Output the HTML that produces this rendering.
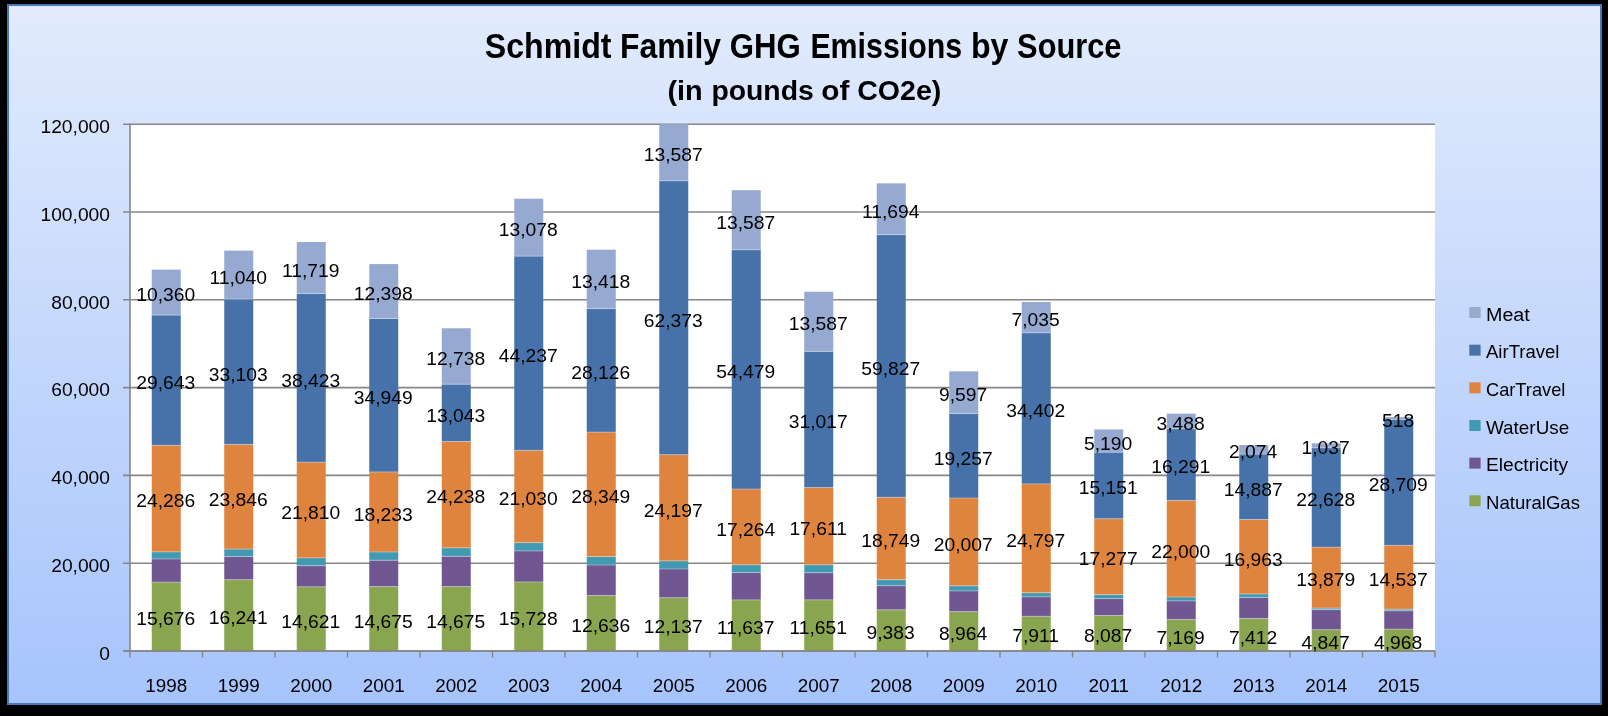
<!DOCTYPE html>
<html><head><meta charset="utf-8"><style>
html,body{margin:0;padding:0;background:#000;width:1608px;height:716px;overflow:hidden}
svg text{font-family:"Liberation Sans", sans-serif;font-size:18.5px;fill:#000}
</style></head><body>
<svg width="1608" height="716" viewBox="0 0 1608 716" style="display:block;will-change:transform">
<defs><linearGradient id="bg" x1="0" y1="0" x2="0" y2="1"><stop offset="0" stop-color="#e2ebfc"/><stop offset="1" stop-color="#a6c4fc"/></linearGradient></defs>
<rect x="0" y="0" width="1608" height="716" fill="#000"/>
<rect x="8" y="5" width="1593" height="699" fill="url(#bg)" stroke="#4678b6" stroke-width="2"/>
<rect x="130.0" y="124.20" width="1305.0" height="526.80" fill="#fff"/>
<line x1="123" y1="651.00" x2="1435" y2="651.00" stroke="#868686" stroke-width="1.6"/>
<line x1="123" y1="563.20" x2="1435" y2="563.20" stroke="#868686" stroke-width="1.6"/>
<line x1="123" y1="475.40" x2="1435" y2="475.40" stroke="#868686" stroke-width="1.6"/>
<line x1="123" y1="387.60" x2="1435" y2="387.60" stroke="#868686" stroke-width="1.6"/>
<line x1="123" y1="299.80" x2="1435" y2="299.80" stroke="#868686" stroke-width="1.6"/>
<line x1="123" y1="212.00" x2="1435" y2="212.00" stroke="#868686" stroke-width="1.6"/>
<line x1="123" y1="124.20" x2="1435" y2="124.20" stroke="#868686" stroke-width="1.6"/>
<line x1="130.0" y1="123.40" x2="130.0" y2="651.80" stroke="#868686" stroke-width="1.6"/>
<line x1="130.00" y1="651.0" x2="130.00" y2="657.5" stroke="#868686" stroke-width="1.4"/>
<line x1="202.50" y1="651.0" x2="202.50" y2="657.5" stroke="#868686" stroke-width="1.4"/>
<line x1="275.00" y1="651.0" x2="275.00" y2="657.5" stroke="#868686" stroke-width="1.4"/>
<line x1="347.50" y1="651.0" x2="347.50" y2="657.5" stroke="#868686" stroke-width="1.4"/>
<line x1="420.00" y1="651.0" x2="420.00" y2="657.5" stroke="#868686" stroke-width="1.4"/>
<line x1="492.50" y1="651.0" x2="492.50" y2="657.5" stroke="#868686" stroke-width="1.4"/>
<line x1="565.00" y1="651.0" x2="565.00" y2="657.5" stroke="#868686" stroke-width="1.4"/>
<line x1="637.50" y1="651.0" x2="637.50" y2="657.5" stroke="#868686" stroke-width="1.4"/>
<line x1="710.00" y1="651.0" x2="710.00" y2="657.5" stroke="#868686" stroke-width="1.4"/>
<line x1="782.50" y1="651.0" x2="782.50" y2="657.5" stroke="#868686" stroke-width="1.4"/>
<line x1="855.00" y1="651.0" x2="855.00" y2="657.5" stroke="#868686" stroke-width="1.4"/>
<line x1="927.50" y1="651.0" x2="927.50" y2="657.5" stroke="#868686" stroke-width="1.4"/>
<line x1="1000.00" y1="651.0" x2="1000.00" y2="657.5" stroke="#868686" stroke-width="1.4"/>
<line x1="1072.50" y1="651.0" x2="1072.50" y2="657.5" stroke="#868686" stroke-width="1.4"/>
<line x1="1145.00" y1="651.0" x2="1145.00" y2="657.5" stroke="#868686" stroke-width="1.4"/>
<line x1="1217.50" y1="651.0" x2="1217.50" y2="657.5" stroke="#868686" stroke-width="1.4"/>
<line x1="1290.00" y1="651.0" x2="1290.00" y2="657.5" stroke="#868686" stroke-width="1.4"/>
<line x1="1362.50" y1="651.0" x2="1362.50" y2="657.5" stroke="#868686" stroke-width="1.4"/>
<line x1="1435.00" y1="651.0" x2="1435.00" y2="657.5" stroke="#868686" stroke-width="1.4"/>
<rect x="151.75" y="582.18" width="29.0" height="68.82" fill="#8aa54f"/>
<rect x="151.75" y="558.98" width="29.0" height="23.20" fill="#715792"/>
<rect x="151.75" y="581.68" width="29.0" height="1" fill="#fff" fill-opacity="0.35"/>
<rect x="151.75" y="551.88" width="29.0" height="7.10" fill="#4299b2"/>
<rect x="151.75" y="558.48" width="29.0" height="1" fill="#fff" fill-opacity="0.35"/>
<rect x="151.75" y="445.27" width="29.0" height="106.62" fill="#df843f"/>
<rect x="151.75" y="551.38" width="29.0" height="1" fill="#fff" fill-opacity="0.35"/>
<rect x="151.75" y="315.13" width="29.0" height="130.13" fill="#4672a9"/>
<rect x="151.75" y="444.77" width="29.0" height="1" fill="#fff" fill-opacity="0.35"/>
<rect x="151.75" y="269.65" width="29.0" height="45.48" fill="#95a9d1"/>
<rect x="151.75" y="314.63" width="29.0" height="1" fill="#fff" fill-opacity="0.35"/>
<rect x="224.25" y="579.70" width="29.0" height="71.30" fill="#8aa54f"/>
<rect x="224.25" y="556.60" width="29.0" height="23.10" fill="#715792"/>
<rect x="224.25" y="579.20" width="29.0" height="1" fill="#fff" fill-opacity="0.35"/>
<rect x="224.25" y="549.10" width="29.0" height="7.50" fill="#4299b2"/>
<rect x="224.25" y="556.10" width="29.0" height="1" fill="#fff" fill-opacity="0.35"/>
<rect x="224.25" y="444.42" width="29.0" height="104.68" fill="#df843f"/>
<rect x="224.25" y="548.60" width="29.0" height="1" fill="#fff" fill-opacity="0.35"/>
<rect x="224.25" y="299.10" width="29.0" height="145.32" fill="#4672a9"/>
<rect x="224.25" y="443.92" width="29.0" height="1" fill="#fff" fill-opacity="0.35"/>
<rect x="224.25" y="250.63" width="29.0" height="48.47" fill="#95a9d1"/>
<rect x="224.25" y="298.60" width="29.0" height="1" fill="#fff" fill-opacity="0.35"/>
<rect x="296.75" y="586.81" width="29.0" height="64.19" fill="#8aa54f"/>
<rect x="296.75" y="565.71" width="29.0" height="21.10" fill="#715792"/>
<rect x="296.75" y="586.31" width="29.0" height="1" fill="#fff" fill-opacity="0.35"/>
<rect x="296.75" y="557.91" width="29.0" height="7.80" fill="#4299b2"/>
<rect x="296.75" y="565.21" width="29.0" height="1" fill="#fff" fill-opacity="0.35"/>
<rect x="296.75" y="462.17" width="29.0" height="95.75" fill="#df843f"/>
<rect x="296.75" y="557.41" width="29.0" height="1" fill="#fff" fill-opacity="0.35"/>
<rect x="296.75" y="293.49" width="29.0" height="168.68" fill="#4672a9"/>
<rect x="296.75" y="461.67" width="29.0" height="1" fill="#fff" fill-opacity="0.35"/>
<rect x="296.75" y="242.04" width="29.0" height="51.45" fill="#95a9d1"/>
<rect x="296.75" y="292.99" width="29.0" height="1" fill="#fff" fill-opacity="0.35"/>
<rect x="369.25" y="586.58" width="29.0" height="64.42" fill="#8aa54f"/>
<rect x="369.25" y="560.28" width="29.0" height="26.30" fill="#715792"/>
<rect x="369.25" y="586.08" width="29.0" height="1" fill="#fff" fill-opacity="0.35"/>
<rect x="369.25" y="551.98" width="29.0" height="8.30" fill="#4299b2"/>
<rect x="369.25" y="559.78" width="29.0" height="1" fill="#fff" fill-opacity="0.35"/>
<rect x="369.25" y="471.93" width="29.0" height="80.04" fill="#df843f"/>
<rect x="369.25" y="551.48" width="29.0" height="1" fill="#fff" fill-opacity="0.35"/>
<rect x="369.25" y="318.51" width="29.0" height="153.43" fill="#4672a9"/>
<rect x="369.25" y="471.43" width="29.0" height="1" fill="#fff" fill-opacity="0.35"/>
<rect x="369.25" y="264.08" width="29.0" height="54.43" fill="#95a9d1"/>
<rect x="369.25" y="318.01" width="29.0" height="1" fill="#fff" fill-opacity="0.35"/>
<rect x="441.75" y="586.58" width="29.0" height="64.42" fill="#8aa54f"/>
<rect x="441.75" y="556.38" width="29.0" height="30.20" fill="#715792"/>
<rect x="441.75" y="586.08" width="29.0" height="1" fill="#fff" fill-opacity="0.35"/>
<rect x="441.75" y="547.88" width="29.0" height="8.50" fill="#4299b2"/>
<rect x="441.75" y="555.88" width="29.0" height="1" fill="#fff" fill-opacity="0.35"/>
<rect x="441.75" y="441.47" width="29.0" height="106.40" fill="#df843f"/>
<rect x="441.75" y="547.38" width="29.0" height="1" fill="#fff" fill-opacity="0.35"/>
<rect x="441.75" y="384.21" width="29.0" height="57.26" fill="#4672a9"/>
<rect x="441.75" y="440.97" width="29.0" height="1" fill="#fff" fill-opacity="0.35"/>
<rect x="441.75" y="328.29" width="29.0" height="55.92" fill="#95a9d1"/>
<rect x="441.75" y="383.71" width="29.0" height="1" fill="#fff" fill-opacity="0.35"/>
<rect x="514.25" y="581.95" width="29.0" height="69.05" fill="#8aa54f"/>
<rect x="514.25" y="550.95" width="29.0" height="31.00" fill="#715792"/>
<rect x="514.25" y="581.45" width="29.0" height="1" fill="#fff" fill-opacity="0.35"/>
<rect x="514.25" y="542.65" width="29.0" height="8.30" fill="#4299b2"/>
<rect x="514.25" y="550.45" width="29.0" height="1" fill="#fff" fill-opacity="0.35"/>
<rect x="514.25" y="450.33" width="29.0" height="92.32" fill="#df843f"/>
<rect x="514.25" y="542.15" width="29.0" height="1" fill="#fff" fill-opacity="0.35"/>
<rect x="514.25" y="256.13" width="29.0" height="194.20" fill="#4672a9"/>
<rect x="514.25" y="449.83" width="29.0" height="1" fill="#fff" fill-opacity="0.35"/>
<rect x="514.25" y="198.72" width="29.0" height="57.41" fill="#95a9d1"/>
<rect x="514.25" y="255.63" width="29.0" height="1" fill="#fff" fill-opacity="0.35"/>
<rect x="586.75" y="595.53" width="29.0" height="55.47" fill="#8aa54f"/>
<rect x="586.75" y="565.03" width="29.0" height="30.50" fill="#715792"/>
<rect x="586.75" y="595.03" width="29.0" height="1" fill="#fff" fill-opacity="0.35"/>
<rect x="586.75" y="556.53" width="29.0" height="8.50" fill="#4299b2"/>
<rect x="586.75" y="564.53" width="29.0" height="1" fill="#fff" fill-opacity="0.35"/>
<rect x="586.75" y="432.08" width="29.0" height="124.45" fill="#df843f"/>
<rect x="586.75" y="556.03" width="29.0" height="1" fill="#fff" fill-opacity="0.35"/>
<rect x="586.75" y="308.60" width="29.0" height="123.47" fill="#4672a9"/>
<rect x="586.75" y="431.58" width="29.0" height="1" fill="#fff" fill-opacity="0.35"/>
<rect x="586.75" y="249.70" width="29.0" height="58.91" fill="#95a9d1"/>
<rect x="586.75" y="308.10" width="29.0" height="1" fill="#fff" fill-opacity="0.35"/>
<rect x="659.25" y="597.72" width="29.0" height="53.28" fill="#8aa54f"/>
<rect x="659.25" y="569.02" width="29.0" height="28.70" fill="#715792"/>
<rect x="659.25" y="597.22" width="29.0" height="1" fill="#fff" fill-opacity="0.35"/>
<rect x="659.25" y="560.92" width="29.0" height="8.10" fill="#4299b2"/>
<rect x="659.25" y="568.52" width="29.0" height="1" fill="#fff" fill-opacity="0.35"/>
<rect x="659.25" y="454.69" width="29.0" height="106.22" fill="#df843f"/>
<rect x="659.25" y="560.42" width="29.0" height="1" fill="#fff" fill-opacity="0.35"/>
<rect x="659.25" y="180.88" width="29.0" height="273.82" fill="#4672a9"/>
<rect x="659.25" y="454.19" width="29.0" height="1" fill="#fff" fill-opacity="0.35"/>
<rect x="659.25" y="124.20" width="29.0" height="56.68" fill="#95a9d1"/>
<rect x="659.25" y="180.38" width="29.0" height="1" fill="#fff" fill-opacity="0.35"/>
<rect x="731.75" y="599.91" width="29.0" height="51.09" fill="#8aa54f"/>
<rect x="731.75" y="572.61" width="29.0" height="27.30" fill="#715792"/>
<rect x="731.75" y="599.41" width="29.0" height="1" fill="#fff" fill-opacity="0.35"/>
<rect x="731.75" y="564.81" width="29.0" height="7.80" fill="#4299b2"/>
<rect x="731.75" y="572.11" width="29.0" height="1" fill="#fff" fill-opacity="0.35"/>
<rect x="731.75" y="489.02" width="29.0" height="75.79" fill="#df843f"/>
<rect x="731.75" y="564.31" width="29.0" height="1" fill="#fff" fill-opacity="0.35"/>
<rect x="731.75" y="249.86" width="29.0" height="239.16" fill="#4672a9"/>
<rect x="731.75" y="488.52" width="29.0" height="1" fill="#fff" fill-opacity="0.35"/>
<rect x="731.75" y="190.21" width="29.0" height="59.65" fill="#95a9d1"/>
<rect x="731.75" y="249.36" width="29.0" height="1" fill="#fff" fill-opacity="0.35"/>
<rect x="804.25" y="599.85" width="29.0" height="51.15" fill="#8aa54f"/>
<rect x="804.25" y="572.75" width="29.0" height="27.10" fill="#715792"/>
<rect x="804.25" y="599.35" width="29.0" height="1" fill="#fff" fill-opacity="0.35"/>
<rect x="804.25" y="564.85" width="29.0" height="7.90" fill="#4299b2"/>
<rect x="804.25" y="572.25" width="29.0" height="1" fill="#fff" fill-opacity="0.35"/>
<rect x="804.25" y="487.54" width="29.0" height="77.31" fill="#df843f"/>
<rect x="804.25" y="564.35" width="29.0" height="1" fill="#fff" fill-opacity="0.35"/>
<rect x="804.25" y="351.38" width="29.0" height="136.16" fill="#4672a9"/>
<rect x="804.25" y="487.04" width="29.0" height="1" fill="#fff" fill-opacity="0.35"/>
<rect x="804.25" y="291.73" width="29.0" height="59.65" fill="#95a9d1"/>
<rect x="804.25" y="350.88" width="29.0" height="1" fill="#fff" fill-opacity="0.35"/>
<rect x="876.75" y="609.81" width="29.0" height="41.19" fill="#8aa54f"/>
<rect x="876.75" y="585.71" width="29.0" height="24.10" fill="#715792"/>
<rect x="876.75" y="609.31" width="29.0" height="1" fill="#fff" fill-opacity="0.35"/>
<rect x="876.75" y="579.61" width="29.0" height="6.10" fill="#4299b2"/>
<rect x="876.75" y="585.21" width="29.0" height="1" fill="#fff" fill-opacity="0.35"/>
<rect x="876.75" y="497.30" width="29.0" height="82.31" fill="#df843f"/>
<rect x="876.75" y="579.11" width="29.0" height="1" fill="#fff" fill-opacity="0.35"/>
<rect x="876.75" y="234.66" width="29.0" height="262.64" fill="#4672a9"/>
<rect x="876.75" y="496.80" width="29.0" height="1" fill="#fff" fill-opacity="0.35"/>
<rect x="876.75" y="183.32" width="29.0" height="51.34" fill="#95a9d1"/>
<rect x="876.75" y="234.16" width="29.0" height="1" fill="#fff" fill-opacity="0.35"/>
<rect x="949.25" y="611.65" width="29.0" height="39.35" fill="#8aa54f"/>
<rect x="949.25" y="590.95" width="29.0" height="20.70" fill="#715792"/>
<rect x="949.25" y="611.15" width="29.0" height="1" fill="#fff" fill-opacity="0.35"/>
<rect x="949.25" y="585.85" width="29.0" height="5.10" fill="#4299b2"/>
<rect x="949.25" y="590.45" width="29.0" height="1" fill="#fff" fill-opacity="0.35"/>
<rect x="949.25" y="498.02" width="29.0" height="87.83" fill="#df843f"/>
<rect x="949.25" y="585.35" width="29.0" height="1" fill="#fff" fill-opacity="0.35"/>
<rect x="949.25" y="413.48" width="29.0" height="84.54" fill="#4672a9"/>
<rect x="949.25" y="497.52" width="29.0" height="1" fill="#fff" fill-opacity="0.35"/>
<rect x="949.25" y="371.35" width="29.0" height="42.13" fill="#95a9d1"/>
<rect x="949.25" y="412.98" width="29.0" height="1" fill="#fff" fill-opacity="0.35"/>
<rect x="1021.75" y="616.27" width="29.0" height="34.73" fill="#8aa54f"/>
<rect x="1021.75" y="596.87" width="29.0" height="19.40" fill="#715792"/>
<rect x="1021.75" y="615.77" width="29.0" height="1" fill="#fff" fill-opacity="0.35"/>
<rect x="1021.75" y="592.77" width="29.0" height="4.10" fill="#4299b2"/>
<rect x="1021.75" y="596.37" width="29.0" height="1" fill="#fff" fill-opacity="0.35"/>
<rect x="1021.75" y="483.91" width="29.0" height="108.86" fill="#df843f"/>
<rect x="1021.75" y="592.27" width="29.0" height="1" fill="#fff" fill-opacity="0.35"/>
<rect x="1021.75" y="332.89" width="29.0" height="151.02" fill="#4672a9"/>
<rect x="1021.75" y="483.41" width="29.0" height="1" fill="#fff" fill-opacity="0.35"/>
<rect x="1021.75" y="302.00" width="29.0" height="30.88" fill="#95a9d1"/>
<rect x="1021.75" y="332.39" width="29.0" height="1" fill="#fff" fill-opacity="0.35"/>
<rect x="1094.25" y="615.50" width="29.0" height="35.50" fill="#8aa54f"/>
<rect x="1094.25" y="598.60" width="29.0" height="16.90" fill="#715792"/>
<rect x="1094.25" y="615.00" width="29.0" height="1" fill="#fff" fill-opacity="0.35"/>
<rect x="1094.25" y="594.60" width="29.0" height="4.00" fill="#4299b2"/>
<rect x="1094.25" y="598.10" width="29.0" height="1" fill="#fff" fill-opacity="0.35"/>
<rect x="1094.25" y="518.75" width="29.0" height="75.85" fill="#df843f"/>
<rect x="1094.25" y="594.10" width="29.0" height="1" fill="#fff" fill-opacity="0.35"/>
<rect x="1094.25" y="452.24" width="29.0" height="66.51" fill="#4672a9"/>
<rect x="1094.25" y="518.25" width="29.0" height="1" fill="#fff" fill-opacity="0.35"/>
<rect x="1094.25" y="429.46" width="29.0" height="22.78" fill="#95a9d1"/>
<rect x="1094.25" y="451.74" width="29.0" height="1" fill="#fff" fill-opacity="0.35"/>
<rect x="1166.75" y="619.53" width="29.0" height="31.47" fill="#8aa54f"/>
<rect x="1166.75" y="600.93" width="29.0" height="18.60" fill="#715792"/>
<rect x="1166.75" y="619.03" width="29.0" height="1" fill="#fff" fill-opacity="0.35"/>
<rect x="1166.75" y="597.03" width="29.0" height="3.90" fill="#4299b2"/>
<rect x="1166.75" y="600.43" width="29.0" height="1" fill="#fff" fill-opacity="0.35"/>
<rect x="1166.75" y="500.45" width="29.0" height="96.58" fill="#df843f"/>
<rect x="1166.75" y="596.53" width="29.0" height="1" fill="#fff" fill-opacity="0.35"/>
<rect x="1166.75" y="428.93" width="29.0" height="71.52" fill="#4672a9"/>
<rect x="1166.75" y="499.95" width="29.0" height="1" fill="#fff" fill-opacity="0.35"/>
<rect x="1166.75" y="413.62" width="29.0" height="15.31" fill="#95a9d1"/>
<rect x="1166.75" y="428.43" width="29.0" height="1" fill="#fff" fill-opacity="0.35"/>
<rect x="1239.25" y="618.46" width="29.0" height="32.54" fill="#8aa54f"/>
<rect x="1239.25" y="597.46" width="29.0" height="21.00" fill="#715792"/>
<rect x="1239.25" y="617.96" width="29.0" height="1" fill="#fff" fill-opacity="0.35"/>
<rect x="1239.25" y="593.96" width="29.0" height="3.50" fill="#4299b2"/>
<rect x="1239.25" y="596.96" width="29.0" height="1" fill="#fff" fill-opacity="0.35"/>
<rect x="1239.25" y="519.49" width="29.0" height="74.47" fill="#df843f"/>
<rect x="1239.25" y="593.46" width="29.0" height="1" fill="#fff" fill-opacity="0.35"/>
<rect x="1239.25" y="454.14" width="29.0" height="65.35" fill="#4672a9"/>
<rect x="1239.25" y="518.99" width="29.0" height="1" fill="#fff" fill-opacity="0.35"/>
<rect x="1239.25" y="445.03" width="29.0" height="9.10" fill="#95a9d1"/>
<rect x="1239.25" y="453.64" width="29.0" height="1" fill="#fff" fill-opacity="0.35"/>
<rect x="1311.75" y="629.72" width="29.0" height="21.28" fill="#8aa54f"/>
<rect x="1311.75" y="609.62" width="29.0" height="20.10" fill="#715792"/>
<rect x="1311.75" y="629.22" width="29.0" height="1" fill="#fff" fill-opacity="0.35"/>
<rect x="1311.75" y="608.12" width="29.0" height="1.50" fill="#4299b2"/>
<rect x="1311.75" y="609.12" width="29.0" height="1" fill="#fff" fill-opacity="0.35"/>
<rect x="1311.75" y="547.19" width="29.0" height="60.93" fill="#df843f"/>
<rect x="1311.75" y="607.62" width="29.0" height="1" fill="#fff" fill-opacity="0.35"/>
<rect x="1311.75" y="447.86" width="29.0" height="99.34" fill="#4672a9"/>
<rect x="1311.75" y="546.69" width="29.0" height="1" fill="#fff" fill-opacity="0.35"/>
<rect x="1311.75" y="443.30" width="29.0" height="4.55" fill="#95a9d1"/>
<rect x="1311.75" y="447.36" width="29.0" height="1" fill="#fff" fill-opacity="0.35"/>
<rect x="1384.25" y="629.19" width="29.0" height="21.81" fill="#8aa54f"/>
<rect x="1384.25" y="610.79" width="29.0" height="18.40" fill="#715792"/>
<rect x="1384.25" y="628.69" width="29.0" height="1" fill="#fff" fill-opacity="0.35"/>
<rect x="1384.25" y="609.19" width="29.0" height="1.60" fill="#4299b2"/>
<rect x="1384.25" y="610.29" width="29.0" height="1" fill="#fff" fill-opacity="0.35"/>
<rect x="1384.25" y="545.37" width="29.0" height="63.82" fill="#df843f"/>
<rect x="1384.25" y="608.69" width="29.0" height="1" fill="#fff" fill-opacity="0.35"/>
<rect x="1384.25" y="419.34" width="29.0" height="126.03" fill="#4672a9"/>
<rect x="1384.25" y="544.87" width="29.0" height="1" fill="#fff" fill-opacity="0.35"/>
<rect x="1384.25" y="417.07" width="29.0" height="2.27" fill="#95a9d1"/>
<rect x="1384.25" y="418.84" width="29.0" height="1" fill="#fff" fill-opacity="0.35"/>
<line x1="123" y1="651.0" x2="1435" y2="651.0" stroke="#868686" stroke-width="1.6"/>
<text transform="translate(165.65,625.39) scale(1.042,1)" text-anchor="middle">15,676</text>
<text transform="translate(165.65,507.37) scale(1.042,1)" text-anchor="middle">24,286</text>
<text transform="translate(165.65,389.00) scale(1.042,1)" text-anchor="middle">29,643</text>
<text transform="translate(165.65,301.19) scale(1.042,1)" text-anchor="middle">10,360</text>
<text transform="translate(238.15,624.15) scale(1.042,1)" text-anchor="middle">16,241</text>
<text transform="translate(238.15,505.56) scale(1.042,1)" text-anchor="middle">23,846</text>
<text transform="translate(238.15,380.56) scale(1.042,1)" text-anchor="middle">33,103</text>
<text transform="translate(238.15,283.66) scale(1.042,1)" text-anchor="middle">11,040</text>
<text transform="translate(310.65,627.71) scale(1.042,1)" text-anchor="middle">14,621</text>
<text transform="translate(310.65,518.84) scale(1.042,1)" text-anchor="middle">21,810</text>
<text transform="translate(310.65,386.63) scale(1.042,1)" text-anchor="middle">38,423</text>
<text transform="translate(310.65,276.57) scale(1.042,1)" text-anchor="middle">11,719</text>
<text transform="translate(383.15,627.59) scale(1.042,1)" text-anchor="middle">14,675</text>
<text transform="translate(383.15,520.76) scale(1.042,1)" text-anchor="middle">18,233</text>
<text transform="translate(383.15,404.02) scale(1.042,1)" text-anchor="middle">34,949</text>
<text transform="translate(383.15,300.09) scale(1.042,1)" text-anchor="middle">12,398</text>
<text transform="translate(455.65,627.59) scale(1.042,1)" text-anchor="middle">14,675</text>
<text transform="translate(455.65,503.47) scale(1.042,1)" text-anchor="middle">24,238</text>
<text transform="translate(455.65,421.64) scale(1.042,1)" text-anchor="middle">13,043</text>
<text transform="translate(455.65,365.05) scale(1.042,1)" text-anchor="middle">12,738</text>
<text transform="translate(528.15,625.28) scale(1.042,1)" text-anchor="middle">15,728</text>
<text transform="translate(528.15,505.29) scale(1.042,1)" text-anchor="middle">21,030</text>
<text transform="translate(528.15,362.03) scale(1.042,1)" text-anchor="middle">44,237</text>
<text transform="translate(528.15,236.23) scale(1.042,1)" text-anchor="middle">13,078</text>
<text transform="translate(600.65,632.06) scale(1.042,1)" text-anchor="middle">12,636</text>
<text transform="translate(600.65,503.10) scale(1.042,1)" text-anchor="middle">28,349</text>
<text transform="translate(600.65,379.14) scale(1.042,1)" text-anchor="middle">28,126</text>
<text transform="translate(600.65,287.95) scale(1.042,1)" text-anchor="middle">13,418</text>
<text transform="translate(673.15,633.16) scale(1.042,1)" text-anchor="middle">12,137</text>
<text transform="translate(673.15,516.61) scale(1.042,1)" text-anchor="middle">24,197</text>
<text transform="translate(673.15,326.59) scale(1.042,1)" text-anchor="middle">62,373</text>
<text transform="translate(673.15,161.34) scale(1.042,1)" text-anchor="middle">13,587</text>
<text transform="translate(745.65,634.26) scale(1.042,1)" text-anchor="middle">11,637</text>
<text transform="translate(745.65,535.72) scale(1.042,1)" text-anchor="middle">17,264</text>
<text transform="translate(745.65,378.24) scale(1.042,1)" text-anchor="middle">54,479</text>
<text transform="translate(745.65,228.84) scale(1.042,1)" text-anchor="middle">13,587</text>
<text transform="translate(818.15,634.23) scale(1.042,1)" text-anchor="middle">11,651</text>
<text transform="translate(818.15,535.00) scale(1.042,1)" text-anchor="middle">17,611</text>
<text transform="translate(818.15,428.26) scale(1.042,1)" text-anchor="middle">31,017</text>
<text transform="translate(818.15,330.35) scale(1.042,1)" text-anchor="middle">13,587</text>
<text transform="translate(890.65,639.20) scale(1.042,1)" text-anchor="middle">9,383</text>
<text transform="translate(890.65,547.25) scale(1.042,1)" text-anchor="middle">18,749</text>
<text transform="translate(890.65,374.78) scale(1.042,1)" text-anchor="middle">59,827</text>
<text transform="translate(890.65,217.79) scale(1.042,1)" text-anchor="middle">11,694</text>
<text transform="translate(963.15,640.12) scale(1.042,1)" text-anchor="middle">8,964</text>
<text transform="translate(963.15,550.73) scale(1.042,1)" text-anchor="middle">20,007</text>
<text transform="translate(963.15,464.55) scale(1.042,1)" text-anchor="middle">19,257</text>
<text transform="translate(963.15,401.21) scale(1.042,1)" text-anchor="middle">9,597</text>
<text transform="translate(1035.65,642.44) scale(1.042,1)" text-anchor="middle">7,911</text>
<text transform="translate(1035.65,547.14) scale(1.042,1)" text-anchor="middle">24,797</text>
<text transform="translate(1035.65,417.20) scale(1.042,1)" text-anchor="middle">34,402</text>
<text transform="translate(1035.65,326.25) scale(1.042,1)" text-anchor="middle">7,035</text>
<text transform="translate(1108.15,642.05) scale(1.042,1)" text-anchor="middle">8,087</text>
<text transform="translate(1108.15,565.48) scale(1.042,1)" text-anchor="middle">17,277</text>
<text transform="translate(1108.15,494.30) scale(1.042,1)" text-anchor="middle">15,151</text>
<text transform="translate(1108.15,449.65) scale(1.042,1)" text-anchor="middle">5,190</text>
<text transform="translate(1180.65,644.06) scale(1.042,1)" text-anchor="middle">7,169</text>
<text transform="translate(1180.65,557.54) scale(1.042,1)" text-anchor="middle">22,000</text>
<text transform="translate(1180.65,473.49) scale(1.042,1)" text-anchor="middle">16,291</text>
<text transform="translate(1180.65,430.07) scale(1.042,1)" text-anchor="middle">3,488</text>
<text transform="translate(1253.15,643.53) scale(1.042,1)" text-anchor="middle">7,412</text>
<text transform="translate(1253.15,565.53) scale(1.042,1)" text-anchor="middle">16,963</text>
<text transform="translate(1253.15,495.62) scale(1.042,1)" text-anchor="middle">14,887</text>
<text transform="translate(1253.15,458.39) scale(1.042,1)" text-anchor="middle">2,074</text>
<text transform="translate(1325.65,649.16) scale(1.042,1)" text-anchor="middle">4,847</text>
<text transform="translate(1325.65,586.46) scale(1.042,1)" text-anchor="middle">13,879</text>
<text transform="translate(1325.65,506.32) scale(1.042,1)" text-anchor="middle">22,628</text>
<text transform="translate(1325.65,454.38) scale(1.042,1)" text-anchor="middle">1,037</text>
<text transform="translate(1398.15,648.90) scale(1.042,1)" text-anchor="middle">4,968</text>
<text transform="translate(1398.15,586.08) scale(1.042,1)" text-anchor="middle">14,537</text>
<text transform="translate(1398.15,491.16) scale(1.042,1)" text-anchor="middle">28,709</text>
<text transform="translate(1398.15,427.00) scale(1.042,1)" text-anchor="middle">518</text>
<text transform="translate(110,659.80) scale(1.04,1)" text-anchor="end">0</text>
<text transform="translate(110,572.00) scale(1.04,1)" text-anchor="end">20,000</text>
<text transform="translate(110,484.20) scale(1.04,1)" text-anchor="end">40,000</text>
<text transform="translate(110,396.40) scale(1.04,1)" text-anchor="end">60,000</text>
<text transform="translate(110,308.60) scale(1.04,1)" text-anchor="end">80,000</text>
<text transform="translate(110,220.80) scale(1.04,1)" text-anchor="end">100,000</text>
<text transform="translate(110,133.00) scale(1.04,1)" text-anchor="end">120,000</text>
<text transform="translate(166.25,691.8) scale(1.02,1)" text-anchor="middle">1998</text>
<text transform="translate(238.75,691.8) scale(1.02,1)" text-anchor="middle">1999</text>
<text transform="translate(311.25,691.8) scale(1.02,1)" text-anchor="middle">2000</text>
<text transform="translate(383.75,691.8) scale(1.02,1)" text-anchor="middle">2001</text>
<text transform="translate(456.25,691.8) scale(1.02,1)" text-anchor="middle">2002</text>
<text transform="translate(528.75,691.8) scale(1.02,1)" text-anchor="middle">2003</text>
<text transform="translate(601.25,691.8) scale(1.02,1)" text-anchor="middle">2004</text>
<text transform="translate(673.75,691.8) scale(1.02,1)" text-anchor="middle">2005</text>
<text transform="translate(746.25,691.8) scale(1.02,1)" text-anchor="middle">2006</text>
<text transform="translate(818.75,691.8) scale(1.02,1)" text-anchor="middle">2007</text>
<text transform="translate(891.25,691.8) scale(1.02,1)" text-anchor="middle">2008</text>
<text transform="translate(963.75,691.8) scale(1.02,1)" text-anchor="middle">2009</text>
<text transform="translate(1036.25,691.8) scale(1.02,1)" text-anchor="middle">2010</text>
<text transform="translate(1108.75,691.8) scale(1.02,1)" text-anchor="middle">2011</text>
<text transform="translate(1181.25,691.8) scale(1.02,1)" text-anchor="middle">2012</text>
<text transform="translate(1253.75,691.8) scale(1.02,1)" text-anchor="middle">2013</text>
<text transform="translate(1326.25,691.8) scale(1.02,1)" text-anchor="middle">2014</text>
<text transform="translate(1398.75,691.8) scale(1.02,1)" text-anchor="middle">2015</text>
<text transform="translate(484.77,57.8) scale(0.9317,1)" style="font-weight:bold;font-size:34.5px">Schmidt</text>
<text transform="translate(620.07,57.8) scale(0.9242,1)" style="font-weight:bold;font-size:34.5px">Family</text>
<text transform="translate(729.63,57.8) scale(0.9041,1)" style="font-weight:bold;font-size:34.5px">GHG</text>
<text transform="translate(810.38,57.8) scale(0.8798,1)" style="font-weight:bold;font-size:34.5px">Emissions</text>
<text transform="translate(970.96,57.8) scale(0.9312,1)" style="font-weight:bold;font-size:34.5px">by</text>
<text transform="translate(1017.11,57.8) scale(0.8929,1)" style="font-weight:bold;font-size:34.5px">Source</text>
<text transform="translate(667.45,99.8) scale(1.0322,1)" style="font-weight:bold;font-size:28px">(in</text>
<text transform="translate(711.38,99.8) scale(1.0133,1)" style="font-weight:bold;font-size:28px">pounds</text>
<text transform="translate(821.23,99.8) scale(1.0630,1)" style="font-weight:bold;font-size:28px">of</text>
<text transform="translate(857.18,99.8) scale(1.0213,1)" style="font-weight:bold;font-size:28px">CO2e)</text>
<rect x="1469.3" y="307.00" width="11.3" height="11" fill="#95a9d1"/>
<text transform="translate(1486,320.80) scale(1.095,1)" style="font-size:18px">Meat</text>
<rect x="1469.3" y="344.66" width="11.3" height="11" fill="#4672a9"/>
<text transform="translate(1486,358.46) scale(1.03,1)" style="font-size:18px">AirTravel</text>
<rect x="1469.3" y="382.32" width="11.3" height="11" fill="#df843f"/>
<text transform="translate(1486,396.12) scale(1.013,1)" style="font-size:18px">CarTravel</text>
<rect x="1469.3" y="419.98" width="11.3" height="11" fill="#4299b2"/>
<text transform="translate(1486,433.78) scale(1.05,1)" style="font-size:18px">WaterUse</text>
<rect x="1469.3" y="457.64" width="11.3" height="11" fill="#715792"/>
<text transform="translate(1486,471.44) scale(1.066,1)" style="font-size:18px">Electricity</text>
<rect x="1469.3" y="495.30" width="11.3" height="11" fill="#8aa54f"/>
<text transform="translate(1486,509.10) scale(1.033,1)" style="font-size:18px">NaturalGas</text>
</svg>
</body></html>
